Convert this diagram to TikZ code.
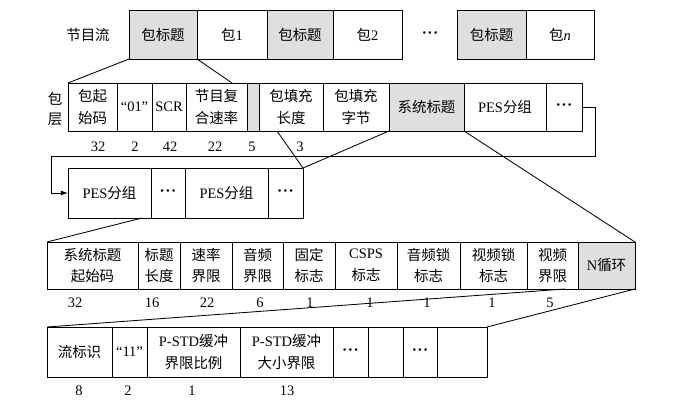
\documentclass[tikz,border=0pt]{standalone}
\usepackage{fontspec}
\setmainfont{Liberation Serif}
\newfontfamily\cjk{Noto Sans CJK SC}
\usepackage{tikz}
\usetikzlibrary{arrows.meta}
\newcommand{\rmtxt}[1]{{\rmfamily #1}}
\newcommand{\bdots}{\raisebox{1.2pt}{\rmfamily\fontsize{7.5}{7.5}\selectfont\textbullet\kern1.4pt\textbullet\kern1.4pt\textbullet}}

\begin{document}
\begin{tikzpicture}[x=0.025cm,y=-0.025cm,line width=0.6pt,
    box/.style={draw,inner sep=0pt,outer sep=0pt,align=center,anchor=west,
      font=\cjk\fontsize{10.3}{15.5}\selectfont},
    w/.style={minimum width=#1*0.025cm},
    h/.style={minimum height=#1*0.025cm},
    hd/.style={fill=gray!25},
    num/.style={font=\fontsize{10.3}{12}\selectfont,inner sep=0pt},
    lbl/.style={font=\cjk\fontsize{10.3}{14.5}\selectfont,align=center}]
      \useasboundingbox (0,0) rectangle (688,405);
      % program stream
      \node[lbl] (ps) at (88,35) {节目流};
      \node[box,hd,w=68,h=49] (h1) at (129,34.5) {包标题};
      \node[box,w=70,h=49] (b1) at (h1.east) {包\rmtxt{1}};
      \node[box,hd,w=66,h=49] (h2) at (b1.east) {包标题};
      \node[box,w=69,h=49] (b2) at (h2.east) {包\rmtxt{2}};
      \node[num] (dd) at (430,35) {\bdots};
      \node[box,hd,w=69,h=49] (h3) at (457,34.5) {包标题};
      \node[box,w=68,h=49] (bn) at (h3.east) {包\rmtxt{\textit{n}}};
      % pack layer
      \node[lbl] (pl) at (55,109) {包\\层};
      \node[box,w=49,h=48] (s1) at (68,107) {包起\\始码};
      \node[box,w=35,h=48] (s2) at (s1.east) {\rmtxt{“01”}};
      \node[box,w=34,h=48] (s3) at (s2.east) {\rmtxt{SCR}};
      \node[box,w=61,h=48] (s4) at (s3.east) {节目复\\合速率};
      \node[box,hd,w=12,h=48] (s5) at (s4.east) {};
      \node[box,w=64,h=48] (s6) at (s5.east) {包填充\\长度};
      \node[box,w=66,h=48] (s7) at (s6.east) {包填充\\字节};
      \node[box,hd,w=75,h=48] (s8) at (s7.east) {系统标题};
      \node[box,w=82,h=48] (s9) at (s8.east) {\rmtxt{PES}分组};
      \node[box,w=36,h=48] (s10) at (s9.east) {\bdots};
      \foreach \x/\t [count=\i] in {98/32,135/2,170/42,215/22,252/5,300/3}
        \node[num] (a\i) at (\x,147) {\t};
      % PES packets
      \node[box,w=83,h=50] (q1) at (68,193) {\rmtxt{PES}分组};
      \node[box,w=34,h=50] (q2) at (q1.east) {\bdots};
      \node[box,w=83,h=50] (q3) at (q2.east) {\rmtxt{PES}分组};
      \node[box,w=35,h=50] (q4) at (q3.east) {\bdots};
      % system header
      \node[box,w=91,h=47] (r1) at (47,265.5) {系统标题\\起始码};
      \node[box,w=42,h=47] (r2) at (r1.east) {标题\\长度};
      \node[box,w=52,h=47] (r3) at (r2.east) {速率\\界限};
      \node[box,w=51,h=47] (r4) at (r3.east) {音频\\界限};
      \node[box,w=52,h=47] (r5) at (r4.east) {固定\\标志};
      \node[box,w=62,h=47] (r6) at (r5.east) {\rmtxt{CSPS}\\标志};
      \node[box,w=63,h=47] (r7) at (r6.east) {音频锁\\标志};
      \node[box,w=67,h=47] (r8) at (r7.east) {视频锁\\标志};
      \node[box,w=51,h=47] (r9) at (r8.east) {视频\\界限};
      \node[box,hd,w=57,h=47] (r10) at (r9.east) {\rmtxt{N}循环};
      \foreach \x/\t [count=\i] in {75/32,152/16,207/22,260/6,310/1,370/1,427/1,492/1,550/5}
        \node[num] (m\i) at (\x,303) {\t};
      % N loop
      \node[box,w=65,h=50] (t1) at (47,352) {流标识};
      \node[box,w=35,h=50] (t2) at (t1.east) {\rmtxt{“11”}};
      \node[box,w=93,h=50] (t3) at (t2.east) {\rmtxt{P-STD}缓冲\\界限比例};
      \node[box,w=93,h=50] (t4) at (t3.east) {\rmtxt{P-STD}缓冲\\大小界限};
      \node[box,w=35,h=50] (t5) at (t4.east) {\bdots};
      \node[box,w=35,h=50] (t6) at (t5.east) {};
      \node[box,w=34,h=50] (t7) at (t6.east) {\bdots};
      \node[box,w=50,h=50] (t8) at (t7.east) {};
      \foreach \x/\t [count=\i] in {79/8,128/2,192/1,287/13}
        \node[num] (k\i) at (\x,391) {\t};
      % expansion lines
      \coordinate (c1) at (232,83);
      \coordinate (c2) at (277,131);
      \coordinate (c3) at (142,218);
      \coordinate (c4) at (565,289);
      \draw (h1.south west) -- (s1.north west)
            (h1.south east) -- (c1)
            (c2) -- (q4.north east)
            (s8.south west) -- (q4.north east)
            (s8.south east) -- (r10.north east)
            (c3) -- (r1.north west)
            (c4) -- (t1.north west)
            (r10.south east) -- (t8.north east);
      \draw[-{Latex[length=5pt,width=3.5pt]}] (s10.east) -- ++(13,0) |- (51,156) |- (q1.west);
    \end{tikzpicture}
\end{document}
